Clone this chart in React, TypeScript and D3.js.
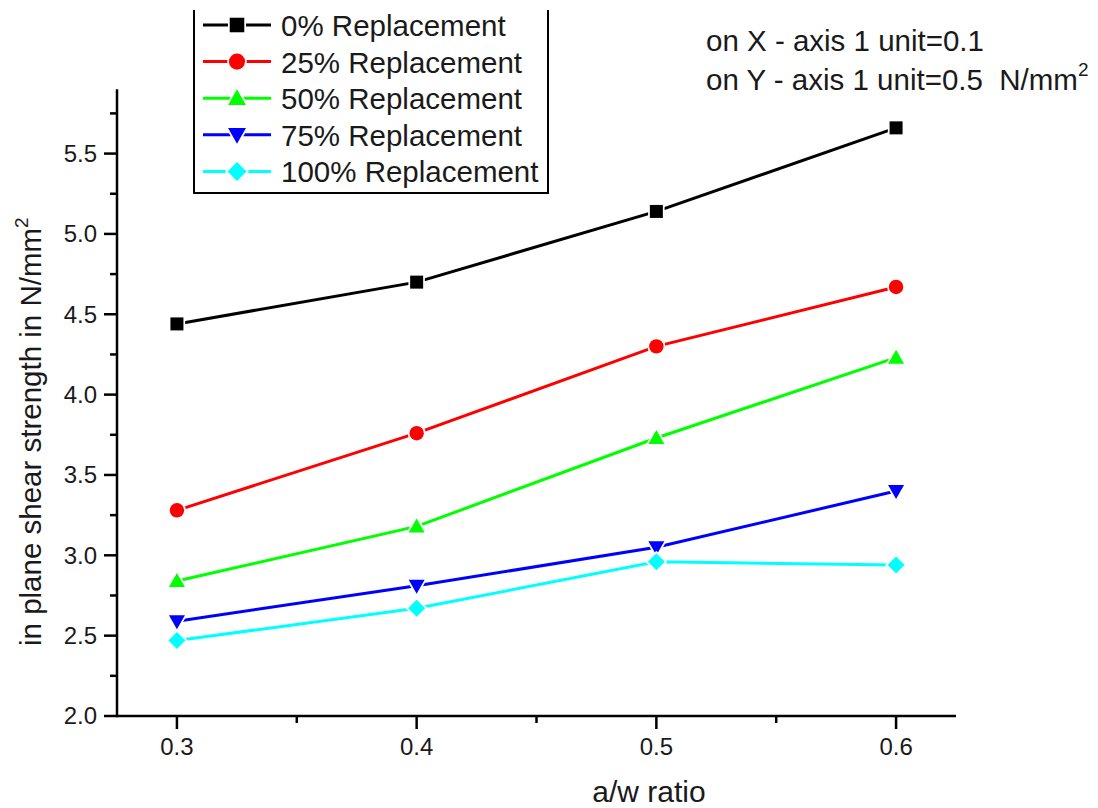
import React from "react";
import * as d3 from "d3";

const ratios = [0.3, 0.4, 0.5, 0.6];
const seriesNames = [
  "0% Replacement",
  "25% Replacement",
  "50% Replacement",
  "75% Replacement",
  "100% Replacement",
];
const rep0 = [4.44, 4.7, 5.14, 5.66];
const rep25 = [3.28, 3.76, 4.3, 4.67];
const rep50 = [2.84, 3.18, 3.73, 4.23];
const rep75 = [2.59, 2.81, 3.05, 3.4];
const rep100 = [2.47, 2.67, 2.96, 2.94];
const xTicks = [0.3, 0.4, 0.5, 0.6];
const xMinor = [0.35, 0.45, 0.55];
const yTicks = [2.0, 2.5, 3.0, 3.5, 4.0, 4.5, 5.0, 5.5];
const yMinor = [2.25, 2.75, 3.25, 3.75, 4.25, 4.75, 5.25, 5.75];

const colors = ["#000000", "#ff0000", "#00ff00", "#0000ff", "#00ffff"];
const shapes = ["square", "circle", "up", "down", "diamond"];
const FONT = "'Liberation Sans', Arial, sans-serif";

function markerPath(shape: string, s: number) {
  // s = scale factor, ~1 for plot markers
  const p = d3.path();
  if (shape === "square") {
    const h = 6.5 * s;
    p.rect(-h, -h, 2 * h, 2 * h);
  } else if (shape === "circle") {
    p.arc(0, 0, 7.2 * s, 0, Math.PI * 2);
  } else if (shape === "up") {
    p.moveTo(0, -8 * s);
    p.lineTo(8 * s, 6 * s);
    p.lineTo(-8 * s, 6 * s);
    p.closePath();
  } else if (shape === "down") {
    p.moveTo(0, 8 * s);
    p.lineTo(8 * s, -6 * s);
    p.lineTo(-8 * s, -6 * s);
    p.closePath();
  } else {
    const h = 8.5 * s;
    p.moveTo(0, -h);
    p.lineTo(h, 0);
    p.lineTo(0, h);
    p.lineTo(-h, 0);
    p.closePath();
  }
  return p.toString();
}

export default function App() {
  const width = 1098,
    height = 808;
  const x = d3.scaleLinear().domain([0.275, 0.625]).range([117, 956]);
  const y = d3.scaleLinear().domain([2.0, 5.9]).range([716, 89.3]);
  const allSeries = [rep0, rep25, rep50, rep75, rep100];

  const line = d3
    .line<number>()
    .x((d, i) => x(ratios[i]))
    .y((d) => y(d));

  return (
    <svg
      width={width}
      height={height}
      style={{ position: "absolute", left: 0, top: 0, background: "#fff" }}
      fontFamily={FONT}
    >
      {/* axes */}
      <line x1={x.range()[0]} x2={x.range()[0]} y1={y.range()[1]} y2={y.range()[0] + 1.2} stroke="#000" strokeWidth={2.5} />
      <line x1={x.range()[0]} x2={x.range()[1]} y1={y.range()[0]} y2={y.range()[0]} stroke="#000" strokeWidth={2.5} />
      {yTicks.map((t) => (
        <g key={"yt" + t}>
          <line x1={x.range()[0] - 13} x2={x.range()[0]} y1={y(t)} y2={y(t)} stroke="#000" strokeWidth={2.5} />
          <text x={97} y={y(t)} dy="0.35em" textAnchor="end" fontSize={24} fill="#1a1a1a">
            {d3.format(".1f")(t)}
          </text>
        </g>
      ))}
      {yMinor.map((t) => (
        <line key={"ym" + t} x1={x.range()[0] - 7} x2={x.range()[0]} y1={y(t)} y2={y(t)} stroke="#000" strokeWidth={2.5} />
      ))}
      {xTicks.map((t) => (
        <g key={"xt" + t}>
          <line x1={x(t)} x2={x(t)} y1={y.range()[0]} y2={y.range()[0] + 13} stroke="#000" strokeWidth={2.5} />
          <text x={x(t)} y={755} textAnchor="middle" fontSize={24} fill="#1a1a1a">
            {d3.format(".1f")(t)}
          </text>
        </g>
      ))}
      {xMinor.map((t) => (
        <line key={"xm" + t} x1={x(t)} x2={x(t)} y1={y.range()[0]} y2={y.range()[0] + 7} stroke="#000" strokeWidth={2.5} />
      ))}

      {/* axis titles */}
      <text x={649} y={802} textAnchor="middle" fontSize={30} fill="#1a1a1a">
        a/w ratio
      </text>
      <text transform="translate(41,646) rotate(-90)" fontSize={29.5} fill="#1a1a1a">
        in plane shear strength in N/mm
        <tspan fontSize={19} dy={-13}>2</tspan>
      </text>

      {/* series */}
      {allSeries.map((vals, si) => (
        <g key={"s" + si}>
          <path d={line(vals) || ""} fill="none" stroke={colors[si]} strokeWidth={3} />
          {vals.map((v, i) => (
            <path
              key={i}
              d={markerPath(shapes[si], 1)}
              transform={`translate(${x(ratios[i])},${y(v)})`}
              fill={colors[si]}
              stroke="#fff"
              strokeWidth={3.5}
              paintOrder="stroke"
            />
          ))}
        </g>
      ))}

      {/* legend */}
      <path d="M194,10 V193 H548 V10" fill="none" stroke="#000" strokeWidth={2} />
      {seriesNames.map((name, i) => {
        const cy = 25 + i * 36.6;
        return (
          <g key={"lg" + i}>
            <line x1={203} x2={271} y1={cy} y2={cy} stroke={colors[i]} strokeWidth={3} />
            <path
              d={markerPath(shapes[i], 1.12)}
              transform={`translate(237,${cy})`}
              fill={colors[i]}
              stroke="#fff"
              strokeWidth={3.5}
              paintOrder="stroke"
            />
            <text x={281} y={cy + 11} fontSize={29.5} fill="#1a1a1a">
              {name}
            </text>
          </g>
        );
      })}

      {/* annotations */}
      <text x={706} y={51} fontSize={29.5} fill="#1a1a1a">
        on X - axis 1 unit=0.1
      </text>
      <text x={706} y={90} fontSize={29.5} fill="#1a1a1a" style={{ whiteSpace: "pre" }}>
        {"on Y - axis 1 unit=0.5  N/mm"}
        <tspan fontSize={19} dy={-14}>2</tspan>
      </text>
    </svg>
  );
}
